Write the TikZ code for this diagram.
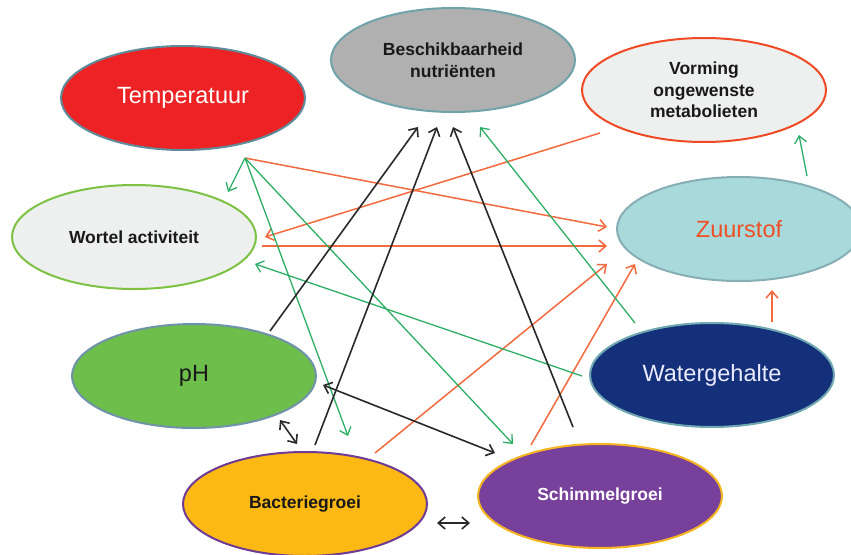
\documentclass[tikz,border=0pt]{standalone}
\usepackage{fontspec}
\setmainfont{Liberation Sans}
\usetikzlibrary{arrows.meta,shapes.geometric}
\definecolor{cRed}{HTML}{EC2224}
\definecolor{cTealB}{HTML}{5F8C9A}
\definecolor{cGray}{HTML}{B0B0B0}
\definecolor{cGrayB}{HTML}{6FA3A8}
\definecolor{cLight}{HTML}{EEEFEF}
\definecolor{cOrB}{HTML}{EF4A24}
\definecolor{cGrB}{HTML}{7DC242}
\definecolor{cAqua}{HTML}{A8DADC}
\definecolor{cAquaB}{HTML}{86AEB4}
\definecolor{cZText}{HTML}{F04E23}
\definecolor{cPh}{HTML}{6DBE4B}
\definecolor{cPhB}{HTML}{6F93A8}
\definecolor{cNavy}{HTML}{15307A}
\definecolor{cNavyB}{HTML}{6FA8B0}
\definecolor{cYel}{HTML}{FDB913}
\definecolor{cPur}{HTML}{77409A}
\definecolor{cPurB}{HTML}{6E3B96}
\definecolor{cYelB}{HTML}{F7B520}
\definecolor{cArO}{HTML}{F26A3D}
\definecolor{cArG}{HTML}{2DAE66}
\definecolor{cArK}{HTML}{2A2A2A}
\tikzset{
  oval/.style={ellipse, minimum width=244pt, minimum height=104pt, inner sep=0pt, line width=2pt, align=center},
  bigtxt/.style={font=\fontsize{23.5}{27}\selectfont},
  boldtxt/.style={font=\fontsize{17.5}{21.5}\selectfont\bfseries},
  arr/.style={line width=1.4pt, -{Straight Barb[length=7pt,width=12pt]}},
  darr/.style={line width=1.6pt, {Straight Barb[length=7pt,width=12pt]}-{Straight Barb[length=7pt,width=12pt]}},
  orangearrow/.style={arr, draw=cArO, line width=1.5pt},
  greenarrow/.style={arr, draw=cArG, line width=1.3pt},
  blackarrow/.style={arr, draw=cArK, line width=1.6pt},
  blackdouble/.style={darr, draw=cArK},
}
\begin{document}
\begin{tikzpicture}[x=1pt,y=-1pt]
\useasboundingbox (0,0) rectangle (851,554);
\clip (0,0) rectangle (851,554);
\fill[white] (0,0) rectangle (851,554);
% nodes
\node[oval, fill=cRed, draw=cTealB, text=white, bigtxt] (temp) at (183,98) {Temperatuur};
\node[oval, fill=cGray, draw=cGrayB, text=black!90, boldtxt] (besch) at (453,60) {Beschikbaarheid\\nutriënten};
\node[oval, fill=cLight, draw=cOrB, text=black!90, boldtxt] (vorm) at (704,90) {Vorming\\ongewenste\\metabolieten};
\node[oval, fill=cLight, draw=cGrB, text=black!90, boldtxt] (wortel) at (134,237) {Wortel activiteit};
\node[oval, fill=cAqua, draw=cAquaB, text=cZText, bigtxt] (zuur) at (739,229) {Zuurstof};
\node[oval, fill=cPh, draw=cPhB, text=black!90, bigtxt] (ph) at (194,376) {pH};
\node[oval, fill=cNavy, draw=cNavyB, text=white!92!blue, bigtxt] (water) at (712,375) {Watergehalte};
\node[oval, fill=cYel, draw=cPurB, text=black!90, boldtxt] (bact) at (305,504) {Bacteriegroei};
\node[oval, fill=cPur, draw=cYelB, text=white, boldtxt] (schim) at (600,496) {Schimmelgroei};
% connector end points
\coordinate (hub) at (245,158);
\coordinate (zIn1) at (607,227);
\coordinate (zIn2) at (607,246);
\coordinate (zIn3) at (607,264);
\coordinate (zIn4) at (635,264);
\coordinate (zIn5) at (772,290);
\coordinate (zOut) at (807,176);
\coordinate (vIn) at (799,135);
\coordinate (vOut) at (600,133);
\coordinate (wIn1) at (265,237);
\coordinate (wOut) at (262,246);
\coordinate (wIn2) at (228,192);
\coordinate (wIn3) at (255,264);
\coordinate (bIn1) at (418,127);
\coordinate (bIn2) at (437,127);
\coordinate (bIn3) at (453,127);
\coordinate (bIn4) at (480,127);
\coordinate (waOut1) at (772,322);
\coordinate (waOut2) at (582,376);
\coordinate (waOut3) at (635,323);
\coordinate (phOut) at (270,331);
\coordinate (phEnd1) at (323,385);
\coordinate (phEnd2) at (280,420);
\coordinate (baOut1) at (375,453);
\coordinate (baOut2) at (315,445);
\coordinate (baEnd1) at (297,444);
\coordinate (baEnd2) at (437,523);
\coordinate (baIn) at (348,436);
\coordinate (scOut1) at (531,445);
\coordinate (scOut2) at (573,427);
\coordinate (scEnd1) at (495,453);
\coordinate (scEnd2) at (470,523);
\coordinate (scIn) at (513,444);
% orange
\draw[orangearrow] (hub) -- (zIn1);
\draw[orangearrow] (vOut) -- (wIn1);
\draw[orangearrow] (wOut) -- (zIn2);
\draw[orangearrow] (baOut1) -- (zIn3);
\draw[orangearrow] (scOut1) -- (zIn4);
\draw[orangearrow] (waOut1) -- (zIn5);
% green
\draw[greenarrow] (hub) -- (wIn2);
\draw[greenarrow] (hub) -- (baIn);
\draw[greenarrow] (hub) -- (scIn);
\draw[greenarrow] (waOut2) -- (wIn3);
\draw[greenarrow] (waOut3) -- (bIn4);
\draw[greenarrow] (zOut) -- (vIn);
% black
\draw[blackarrow] (phOut) -- (bIn1);
\draw[blackarrow] (baOut2) -- (bIn2);
\draw[blackarrow] (scOut2) -- (bIn3);
\draw[blackdouble] (phEnd1) -- (scEnd1);
\draw[blackdouble] (phEnd2) -- (baEnd1);
\draw[blackdouble] (baEnd2) -- (scEnd2);
\end{tikzpicture}
\end{document}
